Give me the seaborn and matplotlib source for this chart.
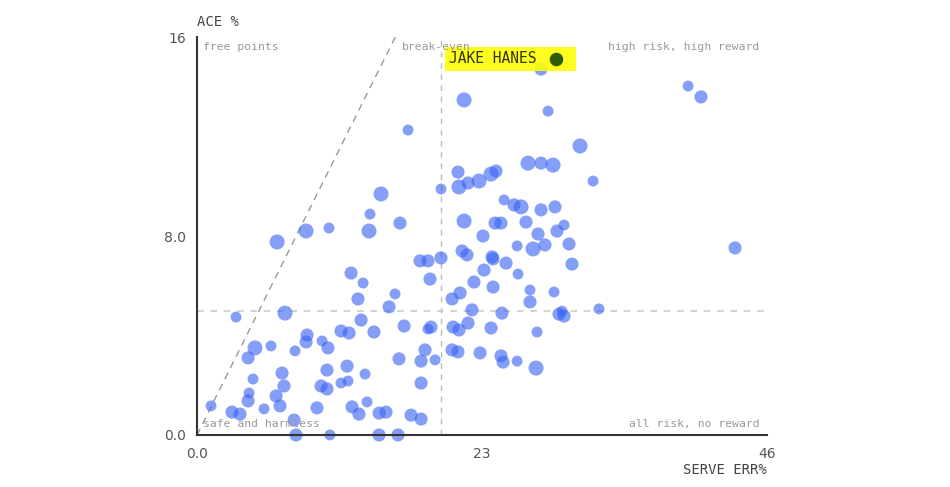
import matplotlib
matplotlib.use("Agg")
import matplotlib.pyplot as plt
import seaborn as sns
import pandas as pd

# serve error % vs ace % per player
serve_err = [27.76, 21.55, 28.33, 30.91, 39.63, 40.67, 17.03, 31.96, 43.42, 32.44,
             21.06, 24.13, 23.73, 26.71, 27.76, 28.73, 19.69, 21.14, 21.87, 22.76,
             24.78, 25.58, 26.15, 27.76, 28.89, 21.55, 24.05, 24.53, 26.55, 23.08,
             27.52, 29.05, 29.62, 25.83, 27.12, 28.08, 30.02, 21.39, 21.79, 23.81,
             23.89, 24.94, 30.26, 18.64, 19.69, 18.00, 23.16, 25.91, 18.80, 22.35,
             23.89, 26.87, 28.81, 21.23, 20.58, 26.87, 22.19, 24.61, 29.21, 29.62,
             29.46, 18.88, 18.64, 20.66, 21.14, 21.87, 23.73, 27.44, 18.40, 18.08,
             19.21, 20.58, 21.06, 22.84, 24.53, 24.70, 25.83, 27.36, 18.08, 18.08,
             14.85, 13.96, 16.38, 10.65, 8.80, 13.88, 6.46, 12.43, 13.40, 12.99,
             15.98, 15.50, 7.10, 3.15, 13.24, 16.71, 11.62, 12.27, 14.28, 8.88,
             8.80, 4.68, 5.97, 7.91, 10.09, 10.57, 4.12, 16.30, 6.86, 10.49,
             12.11, 13.56, 4.52, 7.02, 10.01, 10.49, 11.62, 12.19, 4.20, 4.12,
             6.38, 6.70, 1.13, 2.82, 3.47, 5.41, 9.68, 12.51, 13.07, 13.72,
             14.69, 15.25, 17.27, 7.83, 7.99, 10.73, 14.69, 16.22]
ace_pct = [14.71, 13.47, 13.02, 11.62, 14.03, 13.59, 12.26, 10.21, 7.52, 5.07,
           10.57, 10.61, 10.49, 10.93, 10.93, 10.85, 9.89, 9.97, 10.13, 10.21,
           9.45, 9.25, 9.17, 9.05, 9.17, 8.60, 8.52, 8.52, 8.56, 8.00,
           8.08, 8.20, 8.44, 7.60, 7.48, 7.64, 7.68, 7.40, 7.24, 7.16,
           7.08, 6.91, 6.87, 7.00, 7.12, 7.00, 6.63, 6.47, 6.27, 6.15,
           5.95, 5.83, 5.75, 5.71, 5.47, 5.35, 5.03, 4.90, 4.86, 4.78,
           4.98, 4.34, 4.26, 4.34, 4.22, 4.50, 4.30, 4.14, 3.42, 2.97,
           3.02, 3.42, 3.34, 3.30, 3.18, 2.93, 2.97, 2.69, 2.09, 0.64,
           9.69, 8.88, 8.52, 8.32, 8.20, 8.20, 7.76, 6.51, 6.11, 5.47,
           5.67, 5.15, 4.90, 4.74, 4.62, 4.38, 4.18, 4.10, 4.14, 4.02,
           3.74, 3.50, 3.58, 3.38, 3.78, 3.50, 3.10, 3.06, 2.49, 2.61,
           2.77, 2.45, 2.25, 1.97, 1.97, 1.85, 2.09, 2.17, 1.69, 1.37,
           1.57, 1.17, 1.17, 0.92, 0.84, 1.05, 1.09, 1.13, 0.84, 1.33,
           0.88, 0.92, 0.80, 0.60, 0.0, 0.0, 0.0, 0.0]
# dot size class (1 small, 2 medium, 3 large)
dot_size = [2, 3, 1, 3, 1, 2, 1, 1, 2, 1,
            2, 2, 3, 3, 2, 3, 1, 3, 2, 3,
            1, 2, 3, 2, 2, 3, 2, 2, 2, 2,
            2, 2, 1, 1, 3, 2, 2, 2, 2, 2,
            2, 2, 2, 2, 2, 2, 2, 1, 2, 2,
            2, 1, 1, 2, 2, 2, 2, 2, 2, 2,
            1, 2, 1, 2, 2, 2, 2, 1, 2, 2,
            1, 2, 2, 2, 2, 2, 1, 3, 2, 2,
            3, 1, 2, 1, 3, 3, 3, 2, 1, 2,
            1, 2, 3, 1, 2, 2, 2, 2, 2, 2,
            2, 3, 1, 1, 1, 2, 2, 2, 2, 2,
            2, 1, 1, 2, 2, 2, 1, 1, 1, 2,
            2, 2, 1, 2, 2, 1, 2, 2, 2, 1,
            2, 2, 2, 2, 2, 1, 2, 2]

highlight_name = "JAKE HANES"
highlight_err = 28.97
highlight_ace = 15.12

err_ref = 19.7
ace_ref = 5.0
x_ticks = [0, 23, 46]
x_ticklabels = ["0.0", "23", "46"]
y_ticks = [0, 8, 16]
y_ticklabels = ["0.0", "8.0", "16"]

df = pd.DataFrame({"err": serve_err, "ace": ace_pct, "size": dot_size})

sns.set_style("white")
plt.rcParams["font.family"] = ["DejaVu Sans"]
MONO = "DejaVu Sans Mono"

fig = plt.figure(figsize=(9.5, 4.87), dpi=100)
ax = fig.add_axes([0.2074, 0.1068, 0.6, 0.8172])

# reference lines
ax.axvline(err_ref, color="#bbbbbb", lw=1, ls=(0, (4, 4)), zorder=1)
ax.axhline(ace_ref, color="#cccccc", lw=1.2, ls=(0, (4, 4)), zorder=1)
ax.plot([0, 16], [0, 16], color="#999999", lw=1, ls=(0, (5, 4)), zorder=1)

sns.scatterplot(data=df, x="err", y="ace", size="size", sizes=(62, 117),
                color="#3a64f5", alpha=0.62, linewidth=0, legend=False,
                ax=ax, clip_on=False, zorder=2)

# highlighted player: trailing spaces stretch the marker box past the dot
ax.annotate(highlight_name + "    ", xy=(highlight_err, highlight_ace), xytext=(-77, 0),
            textcoords="offset points", ha="left", va="center",
            family=MONO, fontsize=10.5, color="#333300", zorder=3,
            bbox=dict(boxstyle="square,pad=0.3", fc="#ffff00", ec="none", alpha=0.88))
ax.scatter([highlight_err], [highlight_ace], s=95, color="#2f5a08", zorder=4, linewidth=0)

# quadrant labels
qkw = dict(family=MONO, fontsize=8.2, color="#999999", va="center")
ax.text(0.5, 15.6, "free points", ha="left", **qkw)
ax.text(16.5, 15.6, "break-even", ha="left", **qkw)
ax.text(45.4, 15.6, "high risk, high reward", ha="right", **qkw)
ax.text(0.5, 0.45, "safe and harmless", ha="left", **qkw)
ax.text(45.4, 0.45, "all risk, no reward", ha="right", **qkw)

ax.set_xlim(0, 46)
ax.set_ylim(0, 16)
ax.set_xticks(x_ticks)
ax.set_xticklabels(x_ticklabels)
ax.set_yticks(y_ticks)
ax.set_yticklabels(y_ticklabels)
ax.set_xlabel("")
ax.set_ylabel("")
ax.tick_params(axis="both", colors="#333333", labelcolor="#555555", labelsize=10,
               width=1.2, direction="out")
ax.tick_params(axis="x", length=6, pad=3)
ax.tick_params(axis="y", length=5, pad=3)
for side in ["top", "right"]:
    ax.spines[side].set_visible(False)
for side in ["left", "bottom"]:
    ax.spines[side].set_color("#333333")
    ax.spines[side].set_linewidth(1.5)

ax.annotate("ACE %", xy=(0, 1), xycoords="axes fraction", xytext=(0, 11),
            textcoords="offset points", ha="left", va="center",
            family=MONO, fontsize=10, color="#444444")
ax.annotate("SERVE ERR%", xy=(1, 0), xycoords="axes fraction", xytext=(0, -25),
            textcoords="offset points", ha="right", va="center",
            family=MONO, fontsize=10, color="#444444")

fig.savefig("out.png", dpi=100)
